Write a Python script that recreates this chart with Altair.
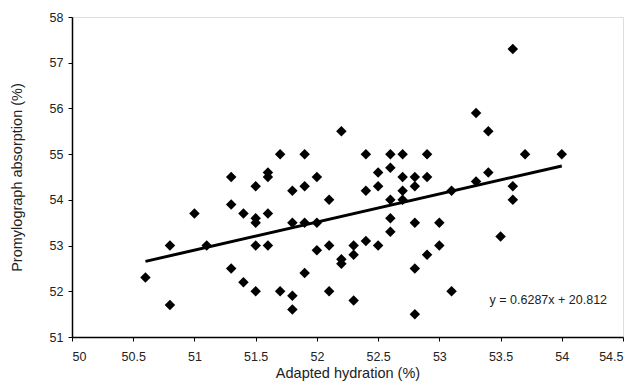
import altair as alt
import pandas as pd

hydration = [50.6, 50.8, 50.8, 51.0, 51.1, 51.3, 51.3, 51.3, 51.4, 51.4,
             51.5, 51.5, 51.5, 51.5, 51.5, 51.6, 51.6, 51.6, 51.6, 51.7,
             51.7, 51.8, 51.8, 51.8, 51.8, 51.9, 51.9, 51.9, 51.9, 52.0,
             52.0, 52.0, 52.1, 52.1, 52.1, 52.2, 52.2, 52.2, 52.3, 52.3,
             52.3, 52.4, 52.4, 52.4, 52.5, 52.5, 52.5, 52.6, 52.6, 52.6,
             52.6, 52.6, 52.7, 52.7, 52.7, 52.7, 52.8, 52.8, 52.8, 52.8,
             52.8, 52.9, 52.9, 52.9, 53.0, 53.0, 53.1, 53.1, 53.3, 53.3,
             53.4, 53.4, 53.5, 53.6, 53.6, 53.6, 53.7, 54.0]
absorption = [52.3, 53.0, 51.7, 53.7, 53.0, 54.5, 53.9, 52.5, 53.7, 52.2,
              54.3, 53.6, 53.5, 53.0, 52.0, 54.6, 54.5, 53.7, 53.0, 55.0,
              52.0, 54.2, 53.5, 51.9, 51.6, 55.0, 54.3, 53.5, 52.4, 54.5,
              53.5, 52.9, 54.0, 53.0, 52.0, 55.5, 52.7, 52.6, 53.0, 52.8,
              51.8, 55.0, 54.2, 53.1, 54.6, 54.3, 53.0, 55.0, 54.7, 54.0,
              53.6, 53.3, 55.0, 54.5, 54.2, 54.0, 54.5, 54.3, 53.5, 52.5,
              51.5, 55.0, 54.5, 52.8, 53.5, 53.0, 54.2, 52.0, 55.9, 54.4,
              55.5, 54.6, 53.2, 57.3, 54.3, 54.0, 55.0, 55.0]

x_ticks = [50, 50.5, 51, 51.5, 52, 52.5, 53, 53.5, 54, 54.5]
y_ticks = [51, 52, 53, 54, 55, 56, 57, 58]

eq_text = ["y = 0.6287x + 20.812"]
eq_x = [53.89]
eq_y = [51.8]

df = pd.DataFrame({"x": hydration, "y": absorption})
eq_df = pd.DataFrame({"x": eq_x, "y": eq_y, "t": eq_text})

FONT = "Liberation Sans"

xscale = alt.Scale(domain=[50, 54.5], nice=False, zero=False)
yscale = alt.Scale(domain=[51, 58], nice=False, zero=False)

xaxis = alt.Axis(values=x_ticks, format="~f", title="Adapted hydration (%)",
                 grid=False, tickSize=4, labelPadding=9, titlePadding=4,
                 domainColor="#000", tickColor="#000", labelColor="#222",
                 titleColor="#222", labelFontSize=12.5, titleFontSize=14.5,
                 labelFont=FONT, titleFont=FONT, titleFontWeight="normal",
                 domainWidth=1.5)
yaxis = alt.Axis(values=y_ticks, format="~f", title="Promylograph absorption (%)",
                 grid=False, tickSize=4, labelPadding=5, titlePadding=25,
                 domainColor="#000", tickColor="#000", labelColor="#222",
                 titleColor="#222", labelFontSize=12.5, titleFontSize=14.5,
                 labelFont=FONT, titleFont=FONT, titleFontWeight="normal",
                 domainWidth=1.5)

points = alt.Chart(df).mark_point(shape="diamond", filled=True, color="#000",
                                  size=110, opacity=1).encode(
    x=alt.X("x:Q", scale=xscale, axis=xaxis),
    y=alt.Y("y:Q", scale=yscale, axis=yaxis),
)

trend = alt.Chart(df).transform_regression("x", "y").mark_line(
    color="#000", strokeWidth=3).encode(
    x=alt.X("x:Q", scale=xscale),
    y=alt.Y("y:Q", scale=yscale),
)

label = alt.Chart(eq_df).mark_text(font=FONT, fontSize=12.5, color="#222",
                                   align="center", baseline="middle").encode(
    x=alt.X("x:Q", scale=xscale),
    y=alt.Y("y:Q", scale=yscale),
    text="t:N",
)

chart = alt.layer(points, trend, label).properties(
    width=551, height=320,
    autosize=alt.AutoSizeParams(type="none"),
    padding={"left": 64, "top": 9, "right": 7, "bottom": 45},
).configure_view(stroke="#888", strokeWidth=1.5).configure(background="white")

chart.save("out.html", embed_options={"renderer": "svg", "actions": False})
